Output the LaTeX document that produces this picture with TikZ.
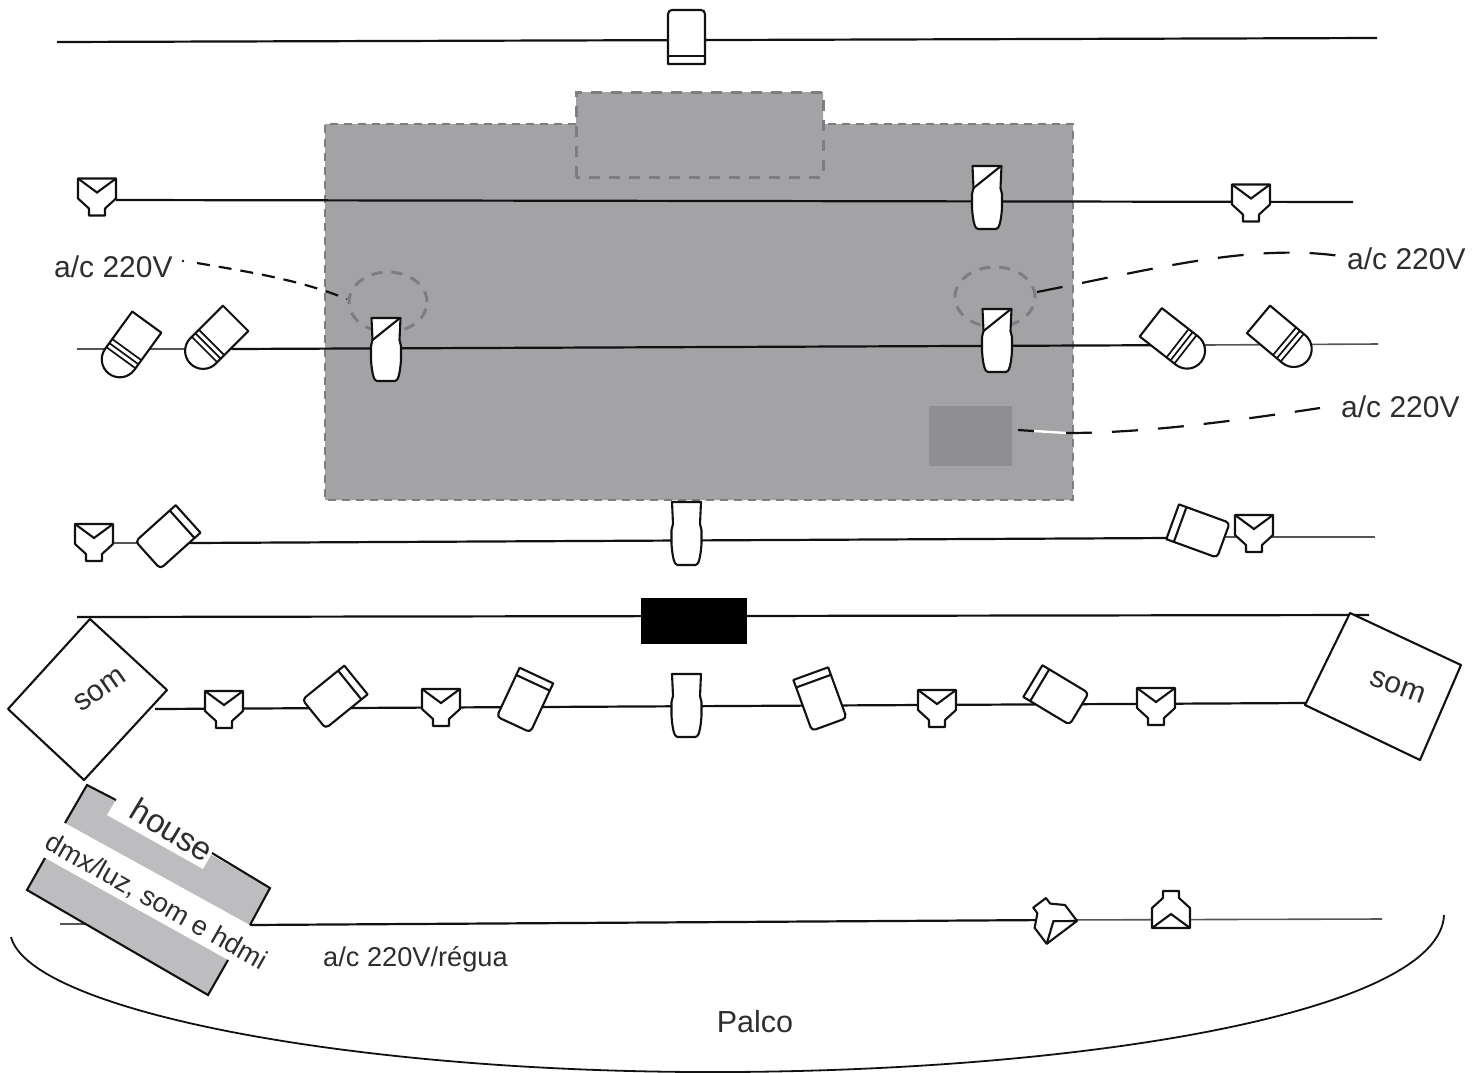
\documentclass[tikz,border=0pt]{standalone}
\usepackage{fontspec}
\setmainfont{Liberation Sans}
\definecolor{zone}{HTML}{A3A3A6}
\definecolor{zoneedge}{HTML}{7E7E82}
\definecolor{innerbox}{HTML}{8F8F92}
\definecolor{house}{HTML}{BDBDC0}
\definecolor{ink}{HTML}{111111}
\definecolor{thinink}{HTML}{555555}
\definecolor{label}{HTML}{2E2E2E}
\tikzset{
  fix/.style={draw=ink,line width=2.1pt,fill=white,line join=round},
  bar/.style={draw=ink,line width=2.1pt},
  mainline/.style={draw=ink,line width=2.2pt},
  thinline/.style={draw=thinink,line width=1.6pt},
  leader/.style={draw=ink,line width=2.2pt,dash pattern=on 26pt off 20pt},
  shortleader/.style={draw=ink,line width=2.2pt,dash pattern=on 13pt off 9pt},
  zoneline/.style={draw=zoneedge,line width=2.8pt,dash pattern=on 8pt off 6pt},
  widezone/.style={draw=zoneedge,line width=3pt,dash pattern=on 11pt off 9pt},
  lbl/.style={text=label,font=\fontsize{30}{30}\selectfont,inner sep=0pt},
  smalllbl/.style={text=label,font=\fontsize{27.2}{30}\selectfont,inner sep=0pt},
  parfix/.pic={
    \path[fix] (-19,-18) -- (19,-18) -- (19,2) -- (8,12) -- (8,19) -- (-8,19) -- (-8,12) -- (-19,2) -- cycle;
    \draw[bar] (-19,-18) -- (0,-4) -- (19,-18);
  },
  spotfix/.pic={
    \path[fix] (-14.5,-32) -- (14.5,-32) -- (13.5,-10) -- (15,-4) -- (15,10) .. controls (14,24) and (12,31) .. (9,31) -- (-9,31) .. controls (-12,31) and (-14,24) .. (-15,10) -- (-15,-4) -- (-13.5,-10) -- cycle;
  },
  cutspot/.pic={
    \path[fix] (-14.5,-32) -- (14.5,-32) -- (13.5,-10) -- (15,-4) -- (15,10) .. controls (14,24) and (12,31) .. (9,31) -- (-9,31) .. controls (-12,31) and (-14,24) .. (-15,10) -- (-15,-4) -- (-13.5,-10) -- cycle;
    \draw[bar] (-13.5,-10) -- (14,-32);
  },
  boxfix/.pic={
    \path[fix] (-18.5,27) -- (-18.5,-23) .. controls (-18.5,-25.5) and (-16.5,-27) .. (-14.5,-27) -- (14.5,-27) .. controls (16.5,-27) and (18.5,-25.5) .. (18.5,-23) -- (18.5,27) -- cycle;
    \draw[bar] (-18.5,19) -- (18.5,19);
  },
  fresnel/.pic={
    \path[fix] (-18,-32) -- (18,-32) -- (18,14) arc[start angle=0,end angle=-180,radius=18pt] -- cycle;
    \draw[bar,line width=1.7pt] (-18,2) -- (18,2) (-18,7) -- (18,7) (-18,12) -- (18,12);
  }
}
\begin{document}
\begin{tikzpicture}[x=1pt,y=-1pt]
\useasboundingbox (0,0) rectangle (1483,1072);
\clip (0,0) rectangle (1483,1072);

% grey zone
\path[fill=zone] (325,124) -- (576,124) -- (576,92) -- (823,92) -- (823,124) -- (1073,124) -- (1073,500) -- (325,500) -- cycle;
\path[zoneline] (576,124) -- (325,124) -- (325,500) -- (1073,500) -- (1073,124) -- (823,124);
\path[widezone] (576,177) -- (576,92) -- (823,92) -- (823,177) -- cycle;
\path[fill=innerbox] (929,406) rectangle (1012,466);
\path[widezone] (388,302) ellipse[x radius=39pt,y radius=30pt];
\path[widezone] (995,297) ellipse[x radius=40pt,y radius=30pt];

% named line ends
\coordinate (t0a) at (57,42);   \coordinate (t0b) at (1377,38);
\coordinate (t1a) at (116,200); \coordinate (t1b) at (1353,202);
\coordinate (t2a) at (77,349);  \coordinate (t2m) at (232,349); \coordinate (t2n) at (1205,345); \coordinate (t2b) at (1378,344);
\coordinate (t3a) at (113,543); \coordinate (t3m) at (190,543); \coordinate (t3n) at (1170,538); \coordinate (t3k) at (1225,537); \coordinate (t3b) at (1375,537);
\coordinate (t4a) at (77,617);  \coordinate (t4b) at (1369,615);
\coordinate (t5a) at (155,709); \coordinate (t5b) at (1305,703);
\coordinate (t6s) at (60,924);  \coordinate (t6e) at (90,924); \coordinate (t6a) at (250,925); \coordinate (t6m) at (1050,920); \coordinate (t6b) at (1382,919);

% rails
\draw[mainline] (t0a) -- (t0b);
\draw[mainline] (t1a) -- (t1b);
\draw[thinline] (t2a) -- (t2m);
\draw[mainline] (t2m) -- (t2n);
\draw[thinline] (t2n) -- (t2b);
\draw[thinline] (t3a) -- (t3m);
\draw[mainline] (t3m) -- (t3n);
\draw[thinline] (t3k) -- (t3b);
\draw[mainline] (t4a) -- (t4b);
\draw[mainline] (t5a) -- (t5b);
\draw[thinline] (t6s) -- (t6e);
\draw[mainline] (t6a) -- (t6m);
\draw[thinline] (t6m) -- (t6b);

% top fixture and black block
\pic (f0) at (686.5,37) {boxfix};
\node[fill=black,minimum width=106pt,minimum height=46pt,inner sep=0pt] (block) at (694,621) {};

% rail 1
\pic (f1a) at (97,196.5) {parfix};
\pic (f1b) at (987,198) {cutspot};
\pic (f1c) at (1251,202.5) {parfix};

% rail 2
\pic[rotate=-36] (f2a) at (128,348) {fresnel};
\pic[rotate=-45] (f2b) at (213,341) {fresnel};
\pic (f2c) at (386,350) {cutspot};
\pic (f2d) at (997,341) {cutspot};
\pic[rotate=52] (f2e) at (1176,342) {fresnel};
\pic[rotate=50] (f2f) at (1283,340) {fresnel};

% rail 3
\pic (f3a) at (94,542) {parfix};
\pic[rotate=132] (f3b) at (168,537) {boxfix};
\pic (f3c) at (686.5,534) {spotfix};
\pic[rotate=250] (f3d) at (1198,531) {boxfix};
\pic (f3e) at (1254,533) {parfix};

% rail 5
\pic (f5a) at (224,709) {parfix};
\pic[rotate=129] (f5b) at (335,697) {boxfix};
\pic (f5c) at (441,707) {parfix};
\pic[rotate=155] (f5d) at (525,700) {boxfix};
\pic (f5e) at (686.5,706) {spotfix};
\pic[rotate=200] (f5f) at (820,699) {boxfix};
\pic (f5g) at (937,708) {parfix};
\pic[rotate=239] (f5h) at (1056,695) {boxfix};
\pic (f5i) at (1156,706) {parfix};

% rail 6
\pic[rotate=-143] (f6a) at (1051,918) {parfix};
\pic[rotate=180] (f6b) at (1171,910) {parfix};

% speakers
\path[fix] (90,619) -- (167,690) -- (84,780) -- (8,709) -- cycle;
\node[lbl,rotate=35] (somL) at (100,690) {som};
\path[fix] (1350,613) -- (1461,665) -- (1420,760) -- (1305,705) -- cycle;
\node[lbl,rotate=-20] (somR) at (1398,687) {som};

% house
\path[fill=house] (87,785) -- (270,888) -- (250,925) -- (65,823) -- cycle;
\path[fill=house] (45,858) -- (228,960) -- (208,995) -- (27,890) -- cycle;
\path[fill=white] (116,800) -- (212,853) -- (203,869) -- (107,815) -- cycle;
\draw[bar] (116,800) -- (87,785) -- (65,823);
\draw[bar] (212,853) -- (270,888) -- (250,925);
\draw[bar] (45,858) -- (27,890) -- (208,995) -- (228,960);
\node[text=label,font=\fontsize{33}{33}\selectfont,inner sep=0pt,rotate=-31] (house) at (172,830) {house};
\node[smalllbl,rotate=-29.5] (dmx) at (156,902) {dmx/luz, som e hdmi};

% stage
\draw[draw=ink,line width=1.8pt] (11,937) .. controls (30,1010) and (350,1074) .. (730,1072) .. controls (1100,1070) and (1440,1010) .. (1444,915);

% leaders
\coordinate (lD) at (183,261); \coordinate (lA) at (197,263); \coordinate (lB) at (347,299);
\coordinate (rA) at (1037,292); \coordinate (rB) at (1340,256);
\coordinate (sA) at (1018,430); \coordinate (sW) at (1034,431); \coordinate (sB) at (1066,433); \coordinate (sC) at (1320,408);
\fill[ink] (lD) circle[radius=1.3pt];
\draw[shortleader] (lA) .. controls (250,272) and (300,280) .. (lB);
\draw[leader] (rA) .. controls (1150,270) and (1250,243) .. (rB);
\draw[ink,line width=2.2pt] (sA) -- (sW);
\draw[white,line width=2.4pt] (sW) -- (sB);
\draw[leader] (sB) .. controls (1150,433) and (1240,420) .. (sC);

% labels
\node[lbl,anchor=west] (acL) at (54,267) {a/c 220V};
\node[lbl,anchor=west] (acR) at (1347,259) {a/c 220V};
\node[lbl,anchor=west] (acS) at (1341,407) {a/c 220V};
\node[smalllbl,anchor=west] (acB) at (323,959) {a/c 220V/régua};
\node[lbl,font=\fontsize{30.5}{31}\selectfont] (palco) at (755,1022) {Palco};
\end{tikzpicture}
\end{document}
